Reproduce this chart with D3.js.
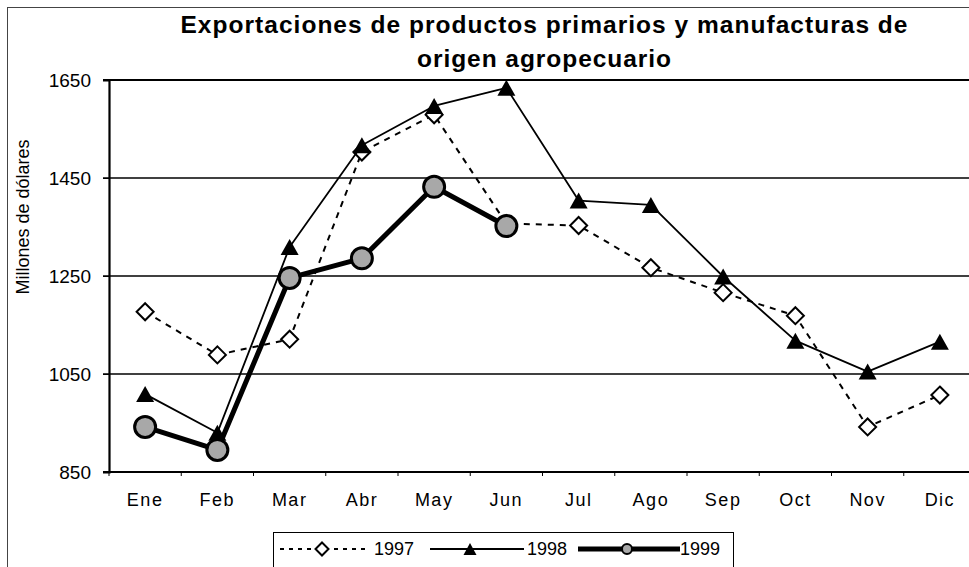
<!DOCTYPE html>
<html>
<head>
<meta charset="utf-8">
<script src="https://cdn.jsdelivr.net/npm/d3@7"></script>
<style>
  html, body { margin: 0; padding: 0; background: #fff; }
  #chart { width: 969px; height: 567px; overflow: hidden; }
</style>
</head>
<body>
<div id="chart"></div>
<script>
// months on the x axis
const months = ["Ene", "Feb", "Mar", "Abr", "May", "Jun", "Jul", "Ago", "Sep", "Oct", "Nov", "Dic"];

// millones de dólares
const values1997 = [1177, 1089, 1121, 1503, 1579, 1357, 1353, 1267, 1216, 1169, 942, 1007];
const values1998 = [1009, 930, 1309, 1517, 1597, 1634, 1404, 1395, 1249, 1118, 1055, 1116];
const values1999 = [942, 895, 1246, 1286, 1432, 1352];

const yTicks = [850, 1050, 1250, 1450, 1650];
const seriesNames = ["1997", "1998", "1999"];

const titleLines = [
  "Exportaciones de productos primarios y manufacturas de",
  "origen agropecuario",
];
const yLabel = "Millones de dólares";

const renderLines = function (node, options = {}) {
  const {
    svgWidth = 969,
    svgHeight = 567,
    marginTop = 80,
    marginLeft = 109,
    plotRight = 976, // plot runs a little past the page edge
    plotBottom = 472,
    font = "'Liberation Sans', Arial, sans-serif",
  } = options;

  const svg = d3
    .select(node)
    .append("svg")
    .attr("width", svgWidth)
    .attr("height", svgHeight)
    .style("background", "#fff")
    .attr("font-family", font);

  // outer chart frame
  svg
    .append("rect")
    .attr("x", 7.5)
    .attr("y", 7.5)
    .attr("width", 1000)
    .attr("height", 1000)
    .attr("fill", "none")
    .attr("stroke", "#444")
    .attr("stroke-width", 1);

  // Scales
  const x = d3.scaleBand().domain(months).range([marginLeft, plotRight]);
  const y = d3.scaleLinear().domain([850, 1650]).range([plotBottom, marginTop]);
  const cx = (m) => x(m) + x.bandwidth() / 2;

  // gridlines
  svg
    .append("g")
    .selectAll("line")
    .data(yTicks)
    .join("line")
    .attr("x1", marginLeft - 6)
    .attr("x2", plotRight)
    .attr("y1", (d) => y(d))
    .attr("y2", (d) => y(d))
    .attr("stroke", "#000")
    .attr("stroke-width", (d) => (d === 850 || d === 1650 ? 2.2 : 1.6));

  // y axis
  const yAxis = svg
    .append("g")
    .attr("transform", `translate(${marginLeft},0)`)
    .call(
      d3
        .axisLeft(y)
        .tickValues(yTicks)
        .tickFormat(d3.format("d"))
        .tickSize(6)
        .tickPadding(12)
    );
  yAxis.select(".domain").attr("stroke-width", 2.2);
  yAxis
    .selectAll("text")
    .attr("font-size", 19)
    .attr("font-family", font)
    .attr("fill", "#000");

  // x axis: band ticks underneath, labels centered
  const xAxis = svg
    .append("g")
    .attr("transform", `translate(0,${plotBottom})`)
    .call(d3.axisBottom(x).tickSize(0).tickPadding(21));
  xAxis.select(".domain").remove();
  xAxis
    .selectAll("text")
    .attr("font-size", 18)
    .attr("letter-spacing", 1.5)
    .attr("font-family", font)
    .attr("fill", "#000");
  svg
    .append("g")
    .selectAll("line")
    .data(months)
    .join("line")
    .attr("x1", (d) => x(d))
    .attr("x2", (d) => x(d))
    .attr("y1", plotBottom)
    .attr("y2", plotBottom + 4)
    .attr("stroke", "#000")
    .attr("stroke-width", 1);

  // axis title
  svg
    .append("text")
    .attr("transform", `translate(29, 217) rotate(-90)`)
    .attr("text-anchor", "middle")
    .attr("font-size", 18)
    .text(yLabel);

  // chart title
  svg
    .append("g")
    .attr("font-weight", "bold")
    .attr("font-size", 24.5)
    .attr("text-anchor", "middle")
    .selectAll("text")
    .data(titleLines)
    .join("text")
    .attr("x", 544)
    .attr("y", (d, i) => 33 + i * 34)
    .attr("textLength", (d, i) => (i === 0 ? 727 : 254))
    .attr("lengthAdjust", "spacing")
    .text((d) => d);

  // markers
  const diamond = (s) => `M0,${-s}L${s},0L0,${s}L${-s},0Z`;
  const triangle = (w, h) => `M0,${-h / 2}L${w / 2},${h / 2}L${-w / 2},${h / 2}Z`;

  const drawMarker = (g, name, big) => {
    if (name === "1997") {
      g.append("path")
        .attr("d", diamond(big ? 8.5 : 6.5))
        .attr("fill", "#fff")
        .attr("stroke", "#000")
        .attr("stroke-width", 2);
    } else if (name === "1998") {
      g.append("path")
        .attr("d", big ? triangle(18, 16) : triangle(13, 12))
        .attr("fill", "#000");
    } else {
      g.append("circle")
        .attr("r", big ? 10.5 : 5)
        .attr("fill", "#a8a8a8")
        .attr("stroke", "#000")
        .attr("stroke-width", big ? 3 : 2);
    }
  };

  const lineStyle = {
    1997: { width: 2, dash: "6,6" },
    1998: { width: 1.8, dash: null },
    1999: { width: 5, dash: null },
  };

  const seriesData = [values1997, values1998, values1999];
  const line = d3
    .line()
    .x((d, i) => cx(months[i]))
    .y((d) => y(d));

  seriesData.forEach((vals, k) => {
    const name = seriesNames[k];
    const g = svg.append("g");
    g.append("path")
      .attr("d", line(vals))
      .attr("fill", "none")
      .attr("stroke", "#000")
      .attr("stroke-width", lineStyle[name].width)
      .attr("stroke-dasharray", lineStyle[name].dash)
      .attr("stroke-linejoin", "round");
    vals.forEach((v, i) => {
      const m = g.append("g").attr("transform", `translate(${cx(months[i])},${y(v)})`);
      drawMarker(m, name, true);
    });
  });

  // Legend
  const legend = svg.append("g");
  legend
    .append("rect")
    .attr("x", 273.5)
    .attr("y", 532.5)
    .attr("width", 460)
    .attr("height", 60)
    .attr("fill", "#fff")
    .attr("stroke", "#000")
    .attr("stroke-width", 1);

  const legendItems = [
    { name: "1997", x1: 280, x2: 370, mx: 322, tx: 374 },
    { name: "1998", x1: 430, x2: 524, mx: 470, tx: 527 },
    { name: "1999", x1: 578, x2: 680, mx: 627, tx: 680 },
  ];
  legendItems.forEach((it) => {
    const g = legend.append("g");
    g.append("line")
      .attr("x1", it.x1)
      .attr("x2", it.x2)
      .attr("y1", 549)
      .attr("y2", 549)
      .attr("stroke", "#000")
      .attr("stroke-width", lineStyle[it.name].width)
      .attr("stroke-dasharray", it.name === "1997" ? "4,5" : null);
    drawMarker(g.append("g").attr("transform", `translate(${it.mx},549)`), it.name, false);
    g.append("text")
      .attr("x", it.tx)
      .attr("y", 555)
      .attr("font-size", 18)
      .text(it.name);
  });
};

renderLines(document.getElementById("chart"));
</script>
</body>
</html>
